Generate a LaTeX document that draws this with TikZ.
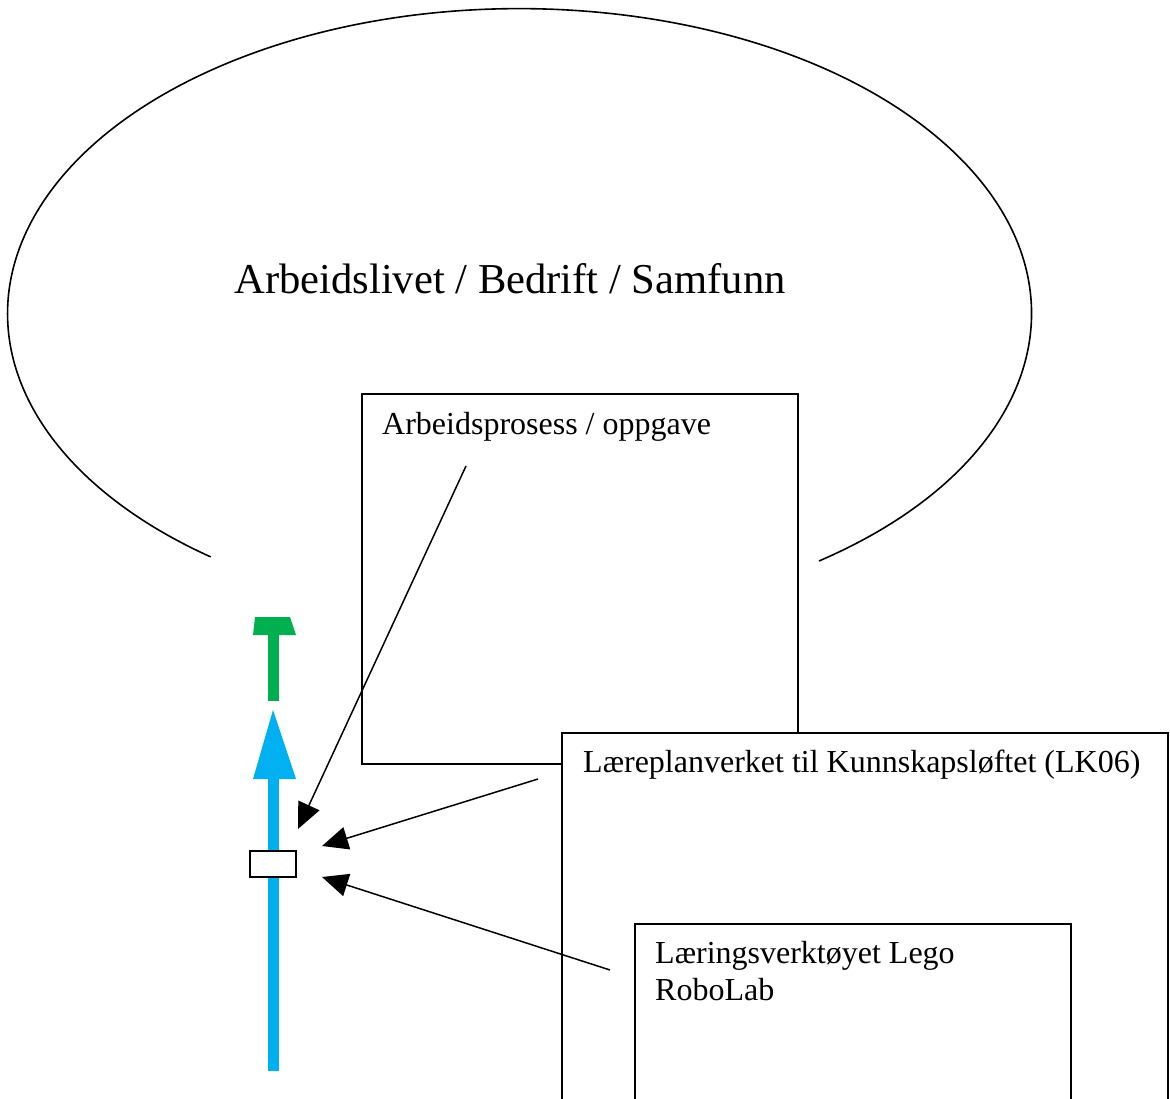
\documentclass[tikz,border=0pt]{standalone}
\usepackage{fontspec}
\setmainfont{Liberation Serif}
\usepackage{tikz}
\usetikzlibrary{arrows.meta}
\definecolor{pilblaa}{RGB}{0,176,240}
\definecolor{pilgronn}{RGB}{0,176,80}

\begin{document}
\begin{tikzpicture}[x=1pt, y=-1pt,
  boks/.style={draw, line width=1.5pt, fill=white, anchor=north west, inner sep=0pt},
  tekst/.style={anchor=base west, inner sep=0pt, font=\fontsize{32}{37}\selectfont, align=left},
  pil/.style={line width=1.5pt, -{Triangle[length=26pt,width=23pt]}}]

\useasboundingbox (0,0) rectangle (1170,1099);
\clip (0,0) rectangle (1170,1099);

\draw[line width=1.6pt] (819,561) arc[start angle=-54.2, end angle=232.9, x radius=512pt, y radius=305pt];
\node[anchor=base, inner sep=0pt, font=\fontsize{42.6}{50}\selectfont] (liv) at (510,294) {Arbeidslivet / Bedrift / Samfunn};

\node[boks, minimum width=436pt, minimum height=370pt] (b1) at (361,393) {};
\node[tekst] (t1) at (382,434) {Arbeidsprosess / oppgave};

\node[boks, minimum width=606pt, minimum height=500pt] (b2) at (561,732) {};
\node[tekst] (t2) at (583,772) {Læreplanverket til Kunnskapsløftet (LK06)};

\node[boks, minimum width=436pt, minimum height=300pt] (b3) at (634,923) {};
\node[tekst] (t3) at (655,1000) {Læringsverktøyet Lego\\RoboLab};

% blaa pil og groenn T
\fill[pilblaa] (268,1071) rectangle (279,778);
\fill[pilblaa] (253,779) -- (273,710) -- (296,779) -- cycle;
\fill[pilgronn] (268,701) rectangle (279,634);
\fill[pilgronn] (255,617) -- (290,617) -- (296,635) -- (253,635) -- cycle;

\node[draw, line width=2pt, fill=white, minimum width=46pt, minimum height=26pt, inner sep=0pt] (r) at (273,864) {};

\coordinate (a1) at (466,466);
\coordinate (a2) at (538,779);
\coordinate (a3) at (610,970);
\coordinate (m1) at (298,829);
\coordinate (m2) at (322,846);
\coordinate (m3) at (322,877);
\draw[pil] (a1) -- (m1);
\draw[pil] (a2) -- (m2);
\draw[pil] (a3) -- (m3);

\end{tikzpicture}
\end{document}
